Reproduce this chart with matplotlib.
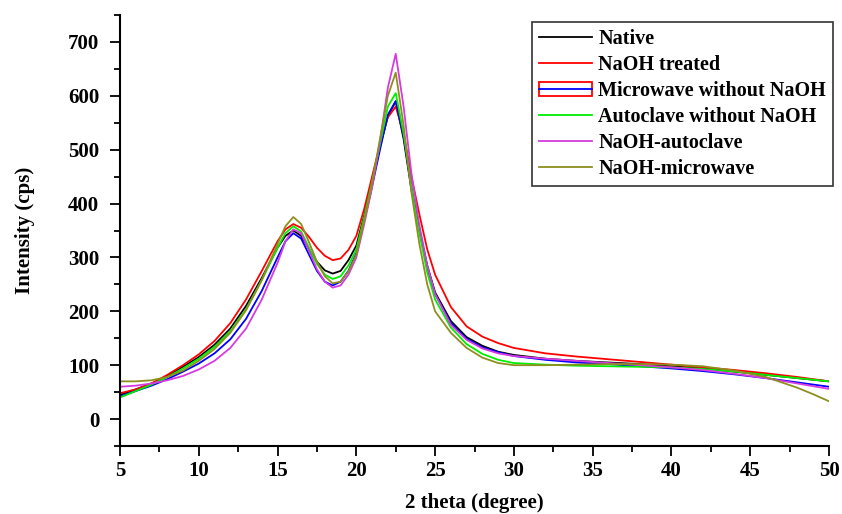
import matplotlib.pyplot as plt
import numpy as np
from matplotlib.patches import Patch
from matplotlib.lines import Line2D

#2 theta positions where the curves were read
theta = [5, 6, 7, 8, 9, 10, 11, 12, 13, 14, 15, 15.5, 16, 16.5, 17, 17.5, 18, 18.5, 19, 19.5,
         20, 20.5, 21, 21.5, 22, 22.5, 23, 23.5, 24, 24.5, 25, 26, 27, 28, 29, 30,
         32, 34, 36, 38, 40, 42, 44, 46, 48, 49, 50]

#intensity of each sample (cps)
native = [45, 55, 66, 80, 97, 115, 138, 168, 210, 262, 318, 340, 350, 340, 315, 292, 276, 270, 275, 295,
          322, 378, 440, 505, 562, 590, 520, 425, 352, 285, 235, 182, 152, 136, 125, 119,
          112, 108, 105, 102, 98, 94, 88, 82, 76, 73, 70]
naoh = [48, 55, 66, 82, 100, 120, 145, 178, 222, 275, 330, 352, 362, 355, 338, 318, 303, 295, 298, 314,
        340, 390, 450, 510, 560, 580, 530, 450, 380, 315, 268, 208, 172, 153, 141, 132,
        122, 116, 111, 106, 101, 96, 91, 85, 78, 74, 70]
microwave = [42, 52, 62, 74, 88, 103, 122, 148, 186, 238, 300, 330, 345, 335, 305, 275, 255, 248, 255, 275,
             308, 368, 432, 500, 565, 590, 525, 430, 350, 282, 232, 178, 149, 133, 124, 117,
             110, 105, 102, 98, 94, 89, 83, 76, 68, 64, 60]
autoclave = [40, 52, 64, 78, 94, 112, 134, 163, 204, 258, 318, 345, 358, 348, 318, 288, 268, 260, 265, 285,
             315, 375, 440, 510, 580, 605, 530, 430, 345, 272, 222, 170, 139, 121, 110, 104,
             101, 99, 98, 97, 96, 93, 88, 82, 76, 73, 70]
naoh_autoclave = [60, 62, 66, 72, 80, 92, 108, 132, 168, 222, 290, 330, 352, 345, 312, 278, 255, 244, 248, 268,
                  300, 362, 430, 515, 615, 678, 580, 455, 360, 285, 232, 175, 147, 131, 122, 117,
                  112, 108, 104, 100, 96, 91, 84, 76, 66, 61, 56]
naoh_microwave = [70, 70, 72, 78, 90, 108, 130, 160, 202, 258, 325, 358, 375, 362, 328, 292, 265, 252, 255, 274,
                  305, 368, 438, 520, 600, 643, 545, 420, 325, 250, 200, 160, 132, 114, 104, 100,
                  100, 101, 102, 102, 101, 98, 90, 78, 58, 46, 33]

labels = ['Native', 'NaOH treated', 'Microwave without NaOH', 'Autoclave without NaOH',
          'NaOH-autoclave', 'NaOH-microwave']
colors = ['black', '#ff0000', '#0000ff', '#00ee00', '#d63ae0', '#8f8f1f']

plt.rcParams['font.family'] = 'Liberation Serif'
plt.rcParams['font.weight'] = 'bold'

fig = plt.figure(figsize=(8.42, 5.14), dpi=100)
ax = fig.add_axes([0.1425, 0.1323, 0.8421, 0.8385])

series = [native, naoh, microwave, autoclave, naoh_autoclave, naoh_microwave]
for y, c, l in zip(series, colors, labels):
    ax.plot(theta, y, color=c, lw=1.3, label=l)

ax.set_xlim(5, 50)
ax.set_ylim(-50, 750)
ax.set_xticks(np.arange(5, 51, 5))
ax.set_xticks(np.arange(7.5, 50, 5), minor=True)
ax.set_yticks(np.arange(0, 701, 100))
ax.set_yticks(np.arange(-50, 751, 100), minor=True)
ax.tick_params(which='major', length=7, width=1.3, labelsize=15)
ax.tick_params(axis='y', which='major', pad=8)
ax.tick_params(which='minor', length=4, width=1.3)

ax.spines['top'].set_visible(False)
ax.spines['right'].set_visible(False)
ax.spines['left'].set_linewidth(1.5)
ax.spines['bottom'].set_linewidth(1.5)

ax.set_xlabel('2 theta (degree)', fontsize=15, fontweight='bold', labelpad=9)
ax.set_ylabel('Intensity (cps)', fontsize=15, fontweight='bold', labelpad=24)

#legend, the microwave entry has a red box round it
handles = [Line2D([], [], color=c, lw=1.3) for c in colors]
handles[2] = (Patch(facecolor='none', edgecolor='#ff0000', lw=1.3), handles[2])
leg = ax.legend(handles, labels, loc='upper right', bbox_to_anchor=(1.0056, 0.984), fontsize=14.5,
                frameon=True, fancybox=False, edgecolor='black', handlelength=2.65,
                handletextpad=0.3, borderpad=0.35, labelspacing=0.3, borderaxespad=0)
leg.get_frame().set_linewidth(1.2)

plt.savefig('out.png')
